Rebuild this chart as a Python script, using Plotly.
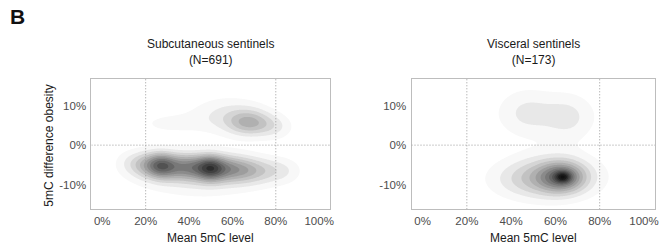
import numpy as np
import plotly.graph_objects as go

# ---- data: density modes of each panel, in % units ----
# Subcutaneous sentinels (N=691)
sub_cx = [12, 20, 27, 34, 42, 50, 58, 66, 74, 82, 88, 45, 68, 58, 30, 80]
sub_cy = [-4.5, -5.0, -5.2, -5.4, -5.6, -5.8, -6.0, -6.3, -6.5, -6.5, -6.5, -8.0, 5.6, 7.5, 5.5, 4.5]
sub_sx = [5, 5, 4.5, 5, 5, 4.5, 5, 5, 5, 5, 5, 20, 7, 12, 11, 6]
sub_sy = [2.4, 2.4, 2.3, 2.4, 2.4, 2.3, 2.4, 2.4, 2.4, 2.4, 2.4, 4.0, 2.3, 3.3, 2.1, 2.3]
sub_w = [0.08, 0.22, 0.42, 0.26, 0.3, 0.52, 0.28, 0.22, 0.14, 0.09, 0.04, 0.12, 0.26, 0.14, 0.07, 0.10]

# Visceral sentinels (N=173)
vis_cx = [63.5, 63, 58, 48, 47, 66, 57]
vis_cy = [-8.1, -8.1, -8.0, -9.0, 8.3, 7.0, 7.5]
vis_sx = [2.5, 7, 15, 13, 9, 8, 20]
vis_sy = [1.0, 2.6, 4.0, 3.2, 4.4, 4.4, 4.0]
vis_w = [0.35, 0.45, 0.30, 0.10, 0.14, 0.14, 0.04]

# relative peak density of each panel (shared fill scale)
panel_peak = [0.86, 1.0]

panel_titles = ["Subcutaneous sentinels<br>(N=691)", "Visceral sentinels<br>(N=173)"]
x_ticks = [0, 20, 40, 60, 80, 100]
x_ticktext = ["0%", "20%", "40%", "60%", "80%", "100%"]
y_ticks = [-10, 0, 10]
y_ticktext = ["-10%", "0%", "10%"]
ref_x = [20, 80]
ref_y = [0]

W, H = 663, 247
gx = np.linspace(-5, 105, 331)
gy = np.linspace(-16.5, 17, 201)
GX, GY = np.meshgrid(gx, gy)


def density(cx, cy, sx, sy, w, peak):
    z = np.zeros_like(GX)
    for a, b, s, t, k in zip(cx, cy, sx, sy, w):
        z += k * np.exp(-0.5 * (((GX - a) / s) ** 2 + ((GY - b) / t) ** 2))
    return peak * z / z.max()


zs = [density(sub_cx, sub_cy, sub_sx, sub_sy, sub_w, panel_peak[0]),
      density(vis_cx, vis_cy, vis_sx, vis_sy, vis_w, panel_peak[1])]

cscale = [[0, "#ffffff"], [0.065, "#f4f4f4"], [1, "#111111"]]

fig = go.Figure()
xdoms = [[92 / W, 332 / W], [414 / W, 659 / W]]
ydom = [1 - 209.3 / H, 1 - 79 / H]
font = "Liberation Sans, Arial, sans-serif"

for i, z in enumerate(zs):
    xa = "x" if i == 0 else "x2"
    ya = "y" if i == 0 else "y2"
    fig.add_trace(go.Contour(
        x=gx, y=gy, z=z, xaxis=xa, yaxis=ya,
        colorscale=cscale, zmin=0, zmax=1, showscale=False,
        contours=dict(coloring="fill", showlines=False, start=0.065, end=1.0, size=0.07),
        line=dict(width=0, smoothing=1.3), hoverinfo="skip",
    ))

axis_common = dict(
    showgrid=False, zeroline=False, showline=True, mirror=True,
    linecolor="#bdbdbd", linewidth=1, ticks="", tickfont=dict(size=11.5, color="#4d4d4d", family=font),
)
for i in range(2):
    sfx = "" if i == 0 else "2"
    fig.update_layout(**{
        f"xaxis{sfx}": dict(axis_common, domain=xdoms[i], range=[-5, 105], tickvals=x_ticks,
                            ticktext=x_ticktext, anchor=f"y{sfx}", ticklabelstandoff=1),
        f"yaxis{sfx}": dict(axis_common, domain=ydom, range=[-16.3, 16.8], tickvals=y_ticks,
                            ticktext=y_ticktext, anchor=f"x{sfx}", ticklabelstandoff=2),
    })
    xr, yr = f"x{sfx}", f"y{sfx}"
    for xv in ref_x:
        fig.add_shape(type="line", xref=xr, yref=yr, x0=xv, x1=xv, y0=-16.3, y1=16.8,
                      line=dict(color="#9a9a9a", width=1, dash="1px,2px"), layer="above")
    for yv in ref_y:
        fig.add_shape(type="line", xref=xr, yref=yr, x0=-5, x1=105, y0=yv, y1=yv,
                      line=dict(color="#9a9a9a", width=1, dash="1px,2px"), layer="above")
    cxp = (xdoms[i][0] + xdoms[i][1]) / 2
    fig.add_annotation(text=panel_titles[i], xref="paper", yref="paper", x=cxp, y=1 - 69 / H,
                       xanchor="center", yanchor="bottom", showarrow=False,
                       font=dict(size=12, color="#1a1a1a", family=font))
    fig.add_annotation(text="Mean 5mC level", xref="paper", yref="paper", x=cxp, y=1 - 238 / H,
                       xanchor="center", yanchor="middle", showarrow=False,
                       font=dict(size=12, color="#1a1a1a", family=font))

fig.add_annotation(text="5mC difference obesity", xref="paper", yref="paper", x=49 / W,
                   y=1 - 145 / H, textangle=-90, xanchor="center", yanchor="middle",
                   showarrow=False, font=dict(size=12, color="#1a1a1a", family=font))
fig.add_annotation(text="<b>B</b>", xref="paper", yref="paper", x=8 / W, y=1 - 17 / H,
                   xanchor="left", yanchor="middle", showarrow=False,
                   font=dict(size=21, color="#111111", family=font))

fig.update_layout(width=W, height=H, margin=dict(l=0, r=0, t=0, b=0),
                  paper_bgcolor="white", plot_bgcolor="white", showlegend=False)
fig.write_html("out.html", config={"displayModeBar": False},
               post_script="document.body.style.margin='0';document.body.style.padding='0';")
